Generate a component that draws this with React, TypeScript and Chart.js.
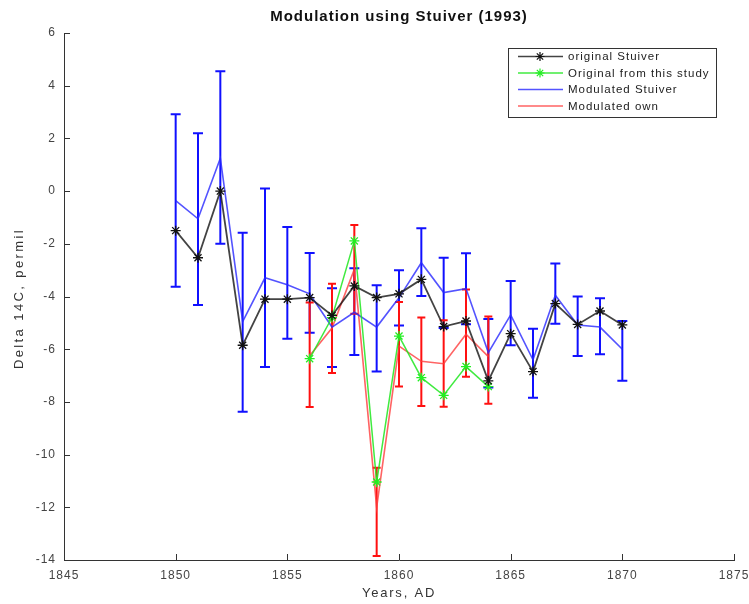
import React, { useEffect, useRef } from "react";
import { Chart, registerables } from "chart.js";

Chart.register(...registerables);

const FONT = "'Liberation Sans', Arial, Helvetica, sans-serif";

const titleText = "Modulation using Stuiver (1993)";
const xTitle = "Years, AD";
const yTitle = "Delta 14C, permil";

const years = [1850, 1851, 1852, 1853, 1854, 1855, 1856, 1857, 1858, 1859, 1860, 1861, 1862, 1863, 1864, 1865, 1866, 1867, 1868, 1869, 1870];
const originalStuiver = [-1.5, -2.53, 0.0, -5.85, -4.1, -4.1, -4.04, -4.72, -3.6, -4.04, -3.9, -3.35, -5.14, -4.93, -7.2, -5.41, -6.85, -4.27, -5.06, -4.55, -5.08];
const modulatedStuiver = [-0.36, -1.05, 1.25, -4.95, -3.29, -3.55, -3.9, -5.16, -4.6, -5.16, -4.05, -2.72, -3.85, -3.7, -6.13, -4.7, -6.4, -3.95, -5.08, -5.16, -6.0];
const modulatedStuiverHigh = [2.92, 2.2, 4.55, -1.58, 0.1, -1.36, -2.35, -3.69, -2.93, -3.57, -3.0, -1.41, -2.53, -2.36, -4.85, -3.41, -5.22, -2.75, -4.0, -4.07, -4.93];
const modulatedStuiverLow = [-3.63, -4.32, -2.0, -8.37, -6.68, -5.6, -5.38, -6.68, -6.22, -6.85, -5.1, -3.98, -5.2, -5.05, -7.45, -5.85, -7.84, -5.03, -6.26, -6.19, -7.2];

const studyYears = [1856, 1857, 1858, 1859, 1860, 1861, 1862, 1863, 1864];
const originalStudy = [-6.36, -4.8, -1.89, -11.04, -5.5, -7.08, -7.75, -6.66, -7.42];
const modulatedOwn = [-6.25, -5.2, -2.97, -12.0, -5.88, -6.46, -6.55, -5.43, -6.28];
const modulatedOwnHigh = [-4.23, -3.52, -1.29, -10.5, -4.21, -4.8, -4.9, -3.73, -4.76];
const modulatedOwnLow = [-8.19, -6.9, -4.65, -13.85, -7.42, -8.16, -8.18, -7.05, -8.07];

const xMin = 1845;
const xMax = 1875;
const xStep = 5;
const yMin = -14;
const yMax = 6;
const yStep = 2;

const pts = (xs: number[], ys: number[]) => xs.map((x, i) => ({ x, y: ys[i] }));

const spacingPlugin = {
  id: "spacing",
  beforeDraw(chart: any) {
    (chart.ctx as any).letterSpacing = "1px";
  },
};

const errorBarPlugin = {
  id: "errorBars",
  beforeDatasetsDraw(chart: any) {
    const { ctx, scales } = chart;
    const xs = scales.x;
    const ys = scales.y;
    const area = chart.chartArea;
    ctx.save();
    ctx.beginPath();
    ctx.rect(area.left, area.top - 1, area.right - area.left, area.bottom - area.top + 2);
    ctx.clip();
    [2, 3].forEach((di) => {
      const ds: any = chart.data.datasets[di];
      if (!ds.errHigh) return;
      ctx.strokeStyle = ds.errColor;
      ctx.lineWidth = ds.errWidth;
      ds.data.forEach((p: any, i: number) => {
        const px = xs.getPixelForValue(p.x);
        const top = ys.getPixelForValue(ds.errHigh[i]);
        const bot = ys.getPixelForValue(ds.errLow[i]);
        const hw = ds.capWidth / 2;
        ctx.beginPath();
        ctx.moveTo(px, top);
        ctx.lineTo(px, bot);
        ctx.moveTo(px - hw, top);
        ctx.lineTo(px + hw, top);
        ctx.moveTo(px - hw, bot);
        ctx.lineTo(px + hw, bot);
        ctx.stroke();
      });
    });
    ctx.restore();
  },
};

const decorPlugin = {
  id: "decor",
  afterDraw(chart: any) {
    const { ctx, scales, chartArea } = chart;
    ctx.save();
    ctx.strokeStyle = "#333";
    ctx.lineWidth = 1;
    scales.y.ticks.forEach((t: any) => {
      const py = Math.round(scales.y.getPixelForValue(t.value)) + 0.5;
      ctx.beginPath();
      ctx.moveTo(chartArea.left, py);
      ctx.lineTo(chartArea.left + 6, py);
      ctx.stroke();
    });
    scales.x.ticks.forEach((t: any) => {
      const px = Math.round(scales.x.getPixelForValue(t.value)) + 0.5;
      ctx.beginPath();
      ctx.moveTo(px, chartArea.bottom);
      ctx.lineTo(px, chartArea.bottom - 6);
      ctx.stroke();
    });
    const cx = (chartArea.left + chartArea.right) / 2;
    const cy = (chartArea.top + chartArea.bottom) / 2;
    ctx.textAlign = "center";
    ctx.textBaseline = "middle";
    ctx.fillStyle = "#111";
    ctx.letterSpacing = "1px";
    ctx.font = `bold 15px ${FONT}`;
    ctx.fillText(titleText, cx, 17);
    ctx.fillStyle = "#333";
    ctx.letterSpacing = "1.8px";
    ctx.font = `13px ${FONT}`;
    ctx.fillText(xTitle, cx, 593);
    ctx.save();
    ctx.translate(19, cy + 2);
    ctx.rotate(-Math.PI / 2);
    ctx.letterSpacing = "2.4px";
    ctx.fillText(yTitle, 0, 0);
    ctx.restore();
    ctx.restore();
  },
};

const legendPlugin = {
  id: "boxLegend",
  afterDraw(chart: any) {
    const { ctx } = chart;
    const x0 = 508;
    const y0 = 48;
    const w = 208;
    const h = 69;
    ctx.save();
    ctx.fillStyle = "#fff";
    ctx.fillRect(x0, y0, w, h);
    ctx.strokeStyle = "#333";
    ctx.lineWidth = 1;
    ctx.strokeRect(x0 + 0.5, y0 + 0.5, w, h);
    ctx.font = `11.5px ${FONT}`;
    ctx.letterSpacing = "1px";
    ctx.textBaseline = "middle";
    ctx.textAlign = "left";
    chart.data.datasets.forEach((ds: any, i: number) => {
      const cy = y0 + 8.5 + i * 16.5;
      ctx.strokeStyle = ds.borderColor;
      ctx.lineWidth = 1.5;
      ctx.beginPath();
      ctx.moveTo(x0 + 10, cy);
      ctx.lineTo(x0 + 55, cy);
      ctx.stroke();
      if (ds.pointStyle === "star") {
        const mx = x0 + 32;
        const r = 4.5;
        ctx.strokeStyle = ds.pointBorderColor;
        ctx.lineWidth = 1.2;
        ctx.beginPath();
        for (let k = 0; k < 4; k++) {
          const a = (k * Math.PI) / 4;
          ctx.moveTo(mx - r * Math.cos(a), cy - r * Math.sin(a));
          ctx.lineTo(mx + r * Math.cos(a), cy + r * Math.sin(a));
        }
        ctx.stroke();
      }
      ctx.fillStyle = "#222";
      ctx.fillText(ds.label, x0 + 60, cy + 0.5);
    });
    ctx.restore();
  },
};

export default function App() {
  const ref = useRef<HTMLCanvasElement | null>(null);

  useEffect(() => {
    if (!ref.current) return;
    const chart = new Chart(ref.current, {
      type: "line",
      data: {
        datasets: [
          {
            label: "original Stuiver",
            data: pts(years, originalStuiver),
            borderColor: "rgba(20,20,20,0.8)",
            borderWidth: 1.8,
            pointStyle: "star",
            pointRadius: 5,
            pointBorderColor: "#111",
            pointBorderWidth: 1.3,
            pointBackgroundColor: "#111",
            tension: 0,
          },
          {
            label: "Original from this study",
            data: pts(studyYears, originalStudy),
            borderColor: "rgba(30,230,30,0.85)",
            borderWidth: 1.5,
            pointStyle: "star",
            pointRadius: 5,
            pointBorderColor: "#22ee22",
            pointBorderWidth: 1.3,
            pointBackgroundColor: "#22ee22",
            tension: 0,
          },
          {
            label: "Modulated Stuiver",
            data: pts(years, modulatedStuiver),
            borderColor: "rgba(40,40,255,0.8)",
            borderWidth: 1.6,
            pointRadius: 0,
            tension: 0,
            errHigh: modulatedStuiverHigh,
            errLow: modulatedStuiverLow,
            errColor: "#1010ff",
            errWidth: 2,
            capWidth: 10,
          } as any,
          {
            label: "Modulated own",
            data: pts(studyYears, modulatedOwn),
            borderColor: "rgba(255,60,60,0.8)",
            borderWidth: 1.6,
            pointRadius: 0,
            tension: 0,
            errHigh: modulatedOwnHigh,
            errLow: modulatedOwnLow,
            errColor: "#ff1010",
            errWidth: 2,
            capWidth: 8,
          } as any,
        ],
      },
      options: {
        animation: false,
        responsive: true,
        maintainAspectRatio: false,
        layout: { padding: { left: 0, right: 0, top: 33, bottom: 0 } },
        plugins: {
          legend: { display: false },
          tooltip: { enabled: false },
          title: { display: false },
        },
        scales: {
          x: {
            type: "linear",
            min: xMin,
            max: xMax,
            ticks: {
              stepSize: xStep,
              color: "#444",
              font: { family: FONT, size: 12 },
              padding: 8,
              maxRotation: 0,
              callback: (v: any) => String(v),
            },
            grid: { drawOnChartArea: false, drawTicks: false },
            border: { color: "#333", width: 1 },
            afterFit: (s: any) => {
              s.height = 44;
              s.paddingLeft = 0;
              s.paddingRight = 15;
            },
          },
          y: {
            type: "linear",
            min: yMin,
            max: yMax,
            ticks: {
              stepSize: yStep,
              color: "#444",
              font: { family: FONT, size: 12 },
              padding: 8,
              callback: (v: any) => String(v),
            },
            grid: { drawOnChartArea: false, drawTicks: false },
            border: { color: "#333", width: 1 },
            afterFit: (s: any) => {
              s.width = 64;
            },
          },
        },
      },
      plugins: [spacingPlugin, errorBarPlugin, decorPlugin, legendPlugin],
    } as any);
    return () => chart.destroy();
  }, []);

  return (
    <div style={{ position: "absolute", left: 0, top: 0, width: 749, height: 604, background: "#fff" }}>
      <canvas ref={ref} />
    </div>
  );
}
